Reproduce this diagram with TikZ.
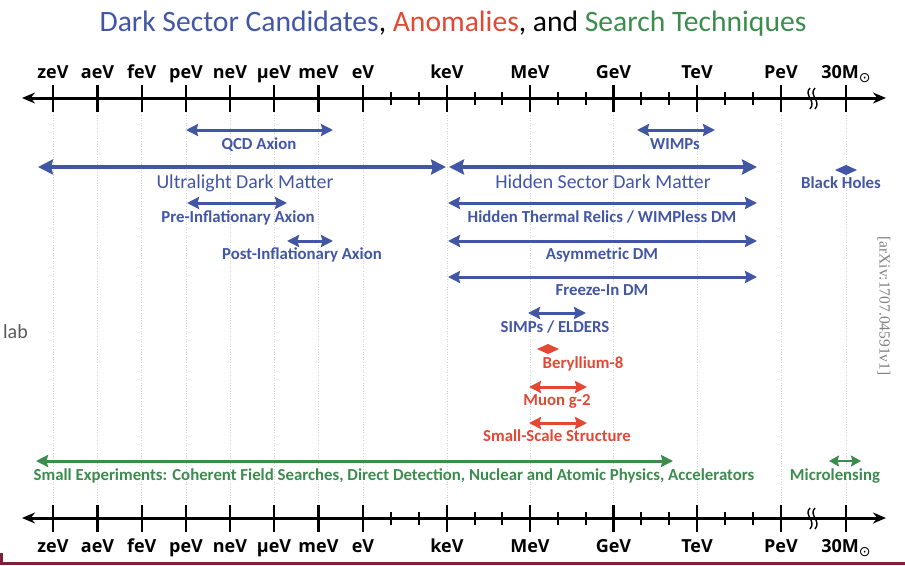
\documentclass[tikz,border=0pt]{standalone}
\usepackage{fontspec}
\setmainfont{Carlito}
\newfontfamily\axisfont{Open Sans}
\newfontfamily\reffont{Liberation Serif}
\newfontfamily\symfont{DejaVu Sans}
\usetikzlibrary{arrows.meta,positioning,shapes.geometric}
\definecolor{dsblue}{RGB}{66,86,166}
\definecolor{dsred}{RGB}{226,72,52}
\definecolor{dsgreen}{RGB}{60,140,78}
\definecolor{dsrule}{RGB}{128,32,52}
\newcommand{\msun}{30M\raisebox{-4pt}{\symfont\mdseries\fontsize{14}{14}\selectfont ⊙}}

\begin{document}
\begin{tikzpicture}[x=1pt, y=-1pt,
  axisline/.style={line width=3pt, {Stealth[length=13pt,width=11pt]}-{Stealth[length=13pt,width=11pt]}},
  major/.style={line width=2.2pt},
  minor/.style={line width=1.9pt},
  ticklab/.style={font=\axisfont\bfseries\fontsize{18}{20}\selectfont, anchor=base, inner sep=0pt},
  grid/.style={gray!35, dotted, line width=0.6pt},
  bigarr/.style={line width=3.8pt, {Stealth[length=15pt,width=15pt,inset=2pt]}-{Stealth[length=15pt,width=15pt,inset=2pt]}},
  arr/.style={line width=3pt, {Stealth[length=12pt,width=12pt,inset=1.5pt]}-{Stealth[length=12pt,width=12pt,inset=1.5pt]}},
  smallarr/.style={line width=2.8pt, {Stealth[length=10pt,width=11pt,inset=1.5pt]}-{Stealth[length=10pt,width=11pt,inset=1.5pt]}},
  biglab/.style={font=\fontsize{19.8}{22}\selectfont, anchor=base, inner sep=0pt},
  lab/.style={font=\bfseries\fontsize{16.8}{19}\selectfont, anchor=base, inner sep=0pt},
  spot/.style={inner sep=0pt, minimum size=0pt}]

  \useasboundingbox (0,0) rectangle (905,565);

  % Title
  \node (title) [font=\fontsize{29.6}{34}\selectfont, anchor=base] at (453,31)
    {\textcolor{dsblue}{Dark Sector Candidates}, \textcolor{dsred}{Anomalies}, and \textcolor{dsgreen}{Search Techniques}};

  % Grid lines
  \foreach \x in {53,97.5,141.7,186,230,274,318.5,363,447,530,613.5,697,781,846}
    \draw[grid] (\x,115) -- (\x,505);

  % Top axis
  \coordinate (topL) at (22,98);
  \coordinate (topR) at (886,98);
  \draw[axisline] (topL) -- (topR);
  \foreach \x/\t/\n in {53/zeV/z, 97.5/aeV/a, 141.7/feV/f, 186/peV/p, 230/neV/n, 274/μeV/mu, 318.5/meV/m, 363/eV/e,
      447/keV/k, 530/MeV/M, 613.5/GeV/G, 697/TeV/T, 781/PeV/P, 846/\msun/sun} {
    \draw[major] (\x,85) -- (\x,112);
    \node (top\n) [ticklab] at (\x,78) {\t};
  }
  \foreach \x in {391,419,475,502,558,586,641,669,725,753}
    \draw[minor] (\x,92) -- (\x,105);
  \draw[line width=1.4pt] (810,88) .. controls (803,95) and (817,101) .. (810,109);
  \draw[line width=1.4pt] (815,88) .. controls (808,95) and (822,101) .. (815,109);

  % Bottom axis
  \coordinate (botL) at (22,518);
  \coordinate (botR) at (886,518);
  \draw[axisline] (botL) -- (botR);
  \foreach \x/\t/\n in {53/zeV/z, 97.5/aeV/a, 141.7/feV/f, 186/peV/p, 230/neV/n, 274/μeV/mu, 318.5/meV/m, 363/eV/e,
      447/keV/k, 530/MeV/M, 613.5/GeV/G, 697/TeV/T, 781/PeV/P, 846/\msun/sun} {
    \draw[major] (\x,505) -- (\x,532);
    \node (bot\n) [ticklab] at (\x,552) {\t};
  }
  \foreach \x in {391,419,475,502,558,586,641,669,725,753}
    \draw[minor] (\x,512) -- (\x,525);
  \draw[line width=1.4pt] (810,508) .. controls (803,515) and (817,521) .. (810,529);
  \draw[line width=1.4pt] (815,508) .. controls (808,515) and (822,521) .. (815,529);

  % Dark sector candidates
  \coordinate (qcdL) at (186,130);  \coordinate (qcdR) at (333,130);
  \coordinate (wimpL) at (637,130); \coordinate (wimpR) at (715,130);
  \coordinate (ulL) at (38,167);    \coordinate (ulR) at (446,167);
  \coordinate (hsL) at (449,167);   \coordinate (hsR) at (757,167);
  \coordinate (preL) at (187,203);  \coordinate (preR) at (287,203);
  \coordinate (htL) at (448,203);   \coordinate (htR) at (757,203);
  \coordinate (postL) at (287,241); \coordinate (postR) at (333,241);
  \coordinate (asyL) at (448,241);  \coordinate (asyR) at (757,241);
  \coordinate (fiL) at (448,277);   \coordinate (fiR) at (757,277);
  \coordinate (simpL) at (528,313); \coordinate (simpR) at (586,313);

  \draw[arr, dsblue] (qcdL) -- (qcdR);
  \draw[arr, dsblue] (wimpL) -- (wimpR);
  \draw[bigarr, dsblue] (ulL) -- (ulR);
  \draw[bigarr, dsblue] (hsL) -- (hsR);
  \draw[arr, dsblue] (preL) -- (preR);
  \draw[arr, dsblue] (htL) -- (htR);
  \draw[arr, dsblue] (postL) -- (postR);
  \draw[arr, dsblue] (asyL) -- (asyR);
  \draw[arr, dsblue] (fiL) -- (fiR);
  \draw[arr, dsblue] (simpL) -- (simpR);
  \node (bh) [spot] at (846,170) {};
  \fill[dsblue] (bh) +(-11,0) -- +(0,-5) -- +(11,0) -- +(0,5) -- cycle;

  \node (qcd) [lab, text=dsblue] at (259,149) {QCD Axion};
  \node (wimps) [lab, text=dsblue] at (675,149) {WIMPs};
  \node (uldm) [biglab, text=dsblue] at (245,188) {Ultralight Dark Matter};
  \node (hsdm) [biglab, text=dsblue] at (603,188) {Hidden Sector Dark Matter};
  \node (bhlab) [lab, text=dsblue] at (841,188) {Black Holes};
  \node (pre) [lab, text=dsblue] at (238,222) {Pre-Inflationary Axion};
  \node (htr) [lab, text=dsblue] at (602,222) {Hidden Thermal Relics / WIMPless DM};
  \node (post) [lab, text=dsblue] at (302,259) {Post-Inflationary Axion};
  \node (asy) [lab, text=dsblue] at (602,259) {Asymmetric DM};
  \node (fi) [lab, text=dsblue] at (602,295) {Freeze-In DM};
  \node (simp) [lab, text=dsblue] at (555,332) {SIMPs / ELDERS};

  % Anomalies
  \coordinate (muL) at (529,387); \coordinate (muR) at (587,387);
  \coordinate (ssL) at (529,423); \coordinate (ssR) at (587,423);
  \node (be) [spot] at (548,349) {};
  \fill[dsred] (be) +(-11,0) -- +(0,-5) -- +(11,0) -- +(0,5) -- cycle;
  \draw[arr, dsred] (muL) -- (muR);
  \draw[arr, dsred] (ssL) -- (ssR);
  \node (belab) [lab, text=dsred] at (583,368) {Beryllium-8};
  \node (muon) [lab, text=dsred] at (557,405) {Muon g-2};
  \node (sss) [lab, text=dsred] at (557,441) {Small-Scale Structure};

  % Search techniques
  \coordinate (expL) at (36,461);  \coordinate (expR) at (673,461);
  \coordinate (mlL) at (829,461);  \coordinate (mlR) at (861,461);
  \draw[arr, dsgreen] (expL) -- (expR);
  \draw[smallarr, dsgreen] (mlL) -- (mlR);
  \node (exp) [lab, text=dsgreen] at (394,480)
    {Small Experiments: Coherent Field Searches, Direct Detection, Nuclear and Atomic Physics, Accelerators};
  \node (ml) [lab, text=dsgreen] at (835,480) {Microlensing};

  % Margin texts
  \node (labtxt) [font=\fontsize{20}{24}\selectfont, text=black!65, anchor=base east, inner sep=0pt] at (28,338) {lab};
  \node (arxiv) [font=\reffont\fontsize{15.5}{18}\selectfont, text=black!50, rotate=-90, inner sep=0pt] at (884,306) {[arXiv:1707.04591v1]};

  % Footer rule
  \fill[dsrule] (0,562) rectangle (905,565);
  \fill[dsrule] (0,553) rectangle (3,565);
\end{tikzpicture}
\end{document}
